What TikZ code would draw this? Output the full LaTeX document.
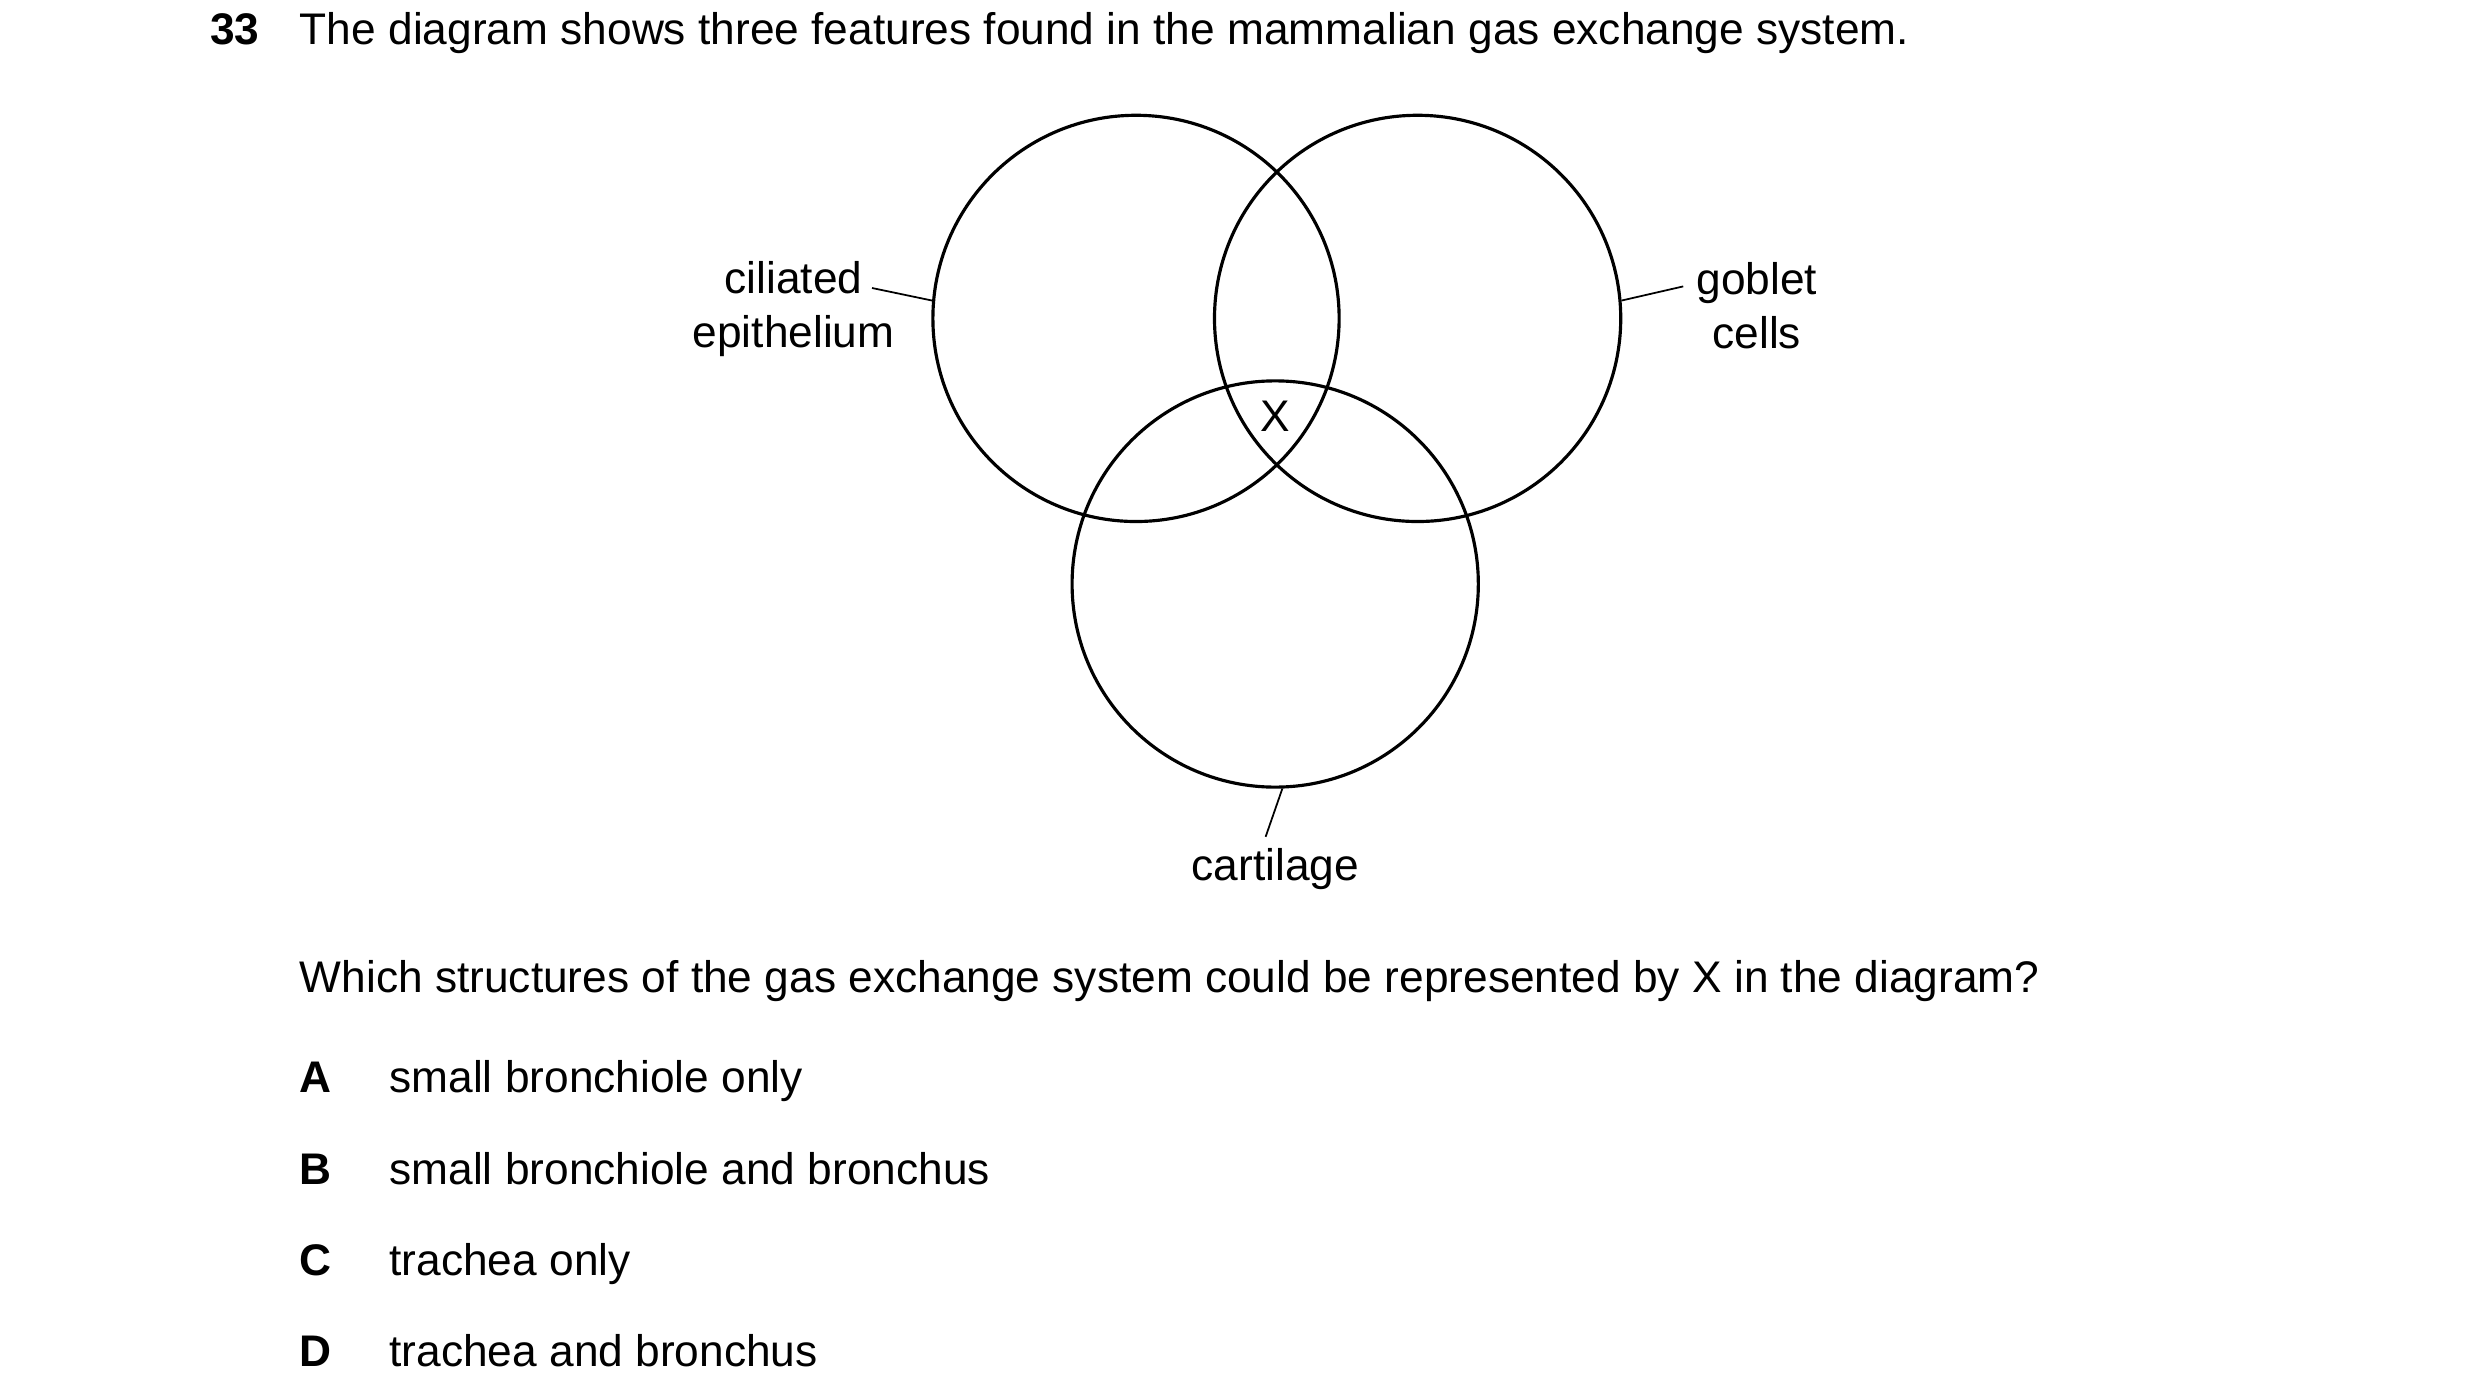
\documentclass[tikz,border=0pt]{standalone}
\usepackage{fontspec}
\setmainfont{Liberation Sans}
\begin{document}
\begin{tikzpicture}[x=0.016cm,y=-0.016cm,
  txt/.style={font=\fontsize{12.6}{15.5}\selectfont,inner sep=0pt},
  ring/.style={draw,line width=0.9pt,circle,minimum size=4.064cm,inner sep=0pt},
  lead/.style={line width=0.5pt}]
  \useasboundingbox (0,0) rectangle (1550,870.6);
  % question
  \node[txt,anchor=base west,font=\fontsize{12.6}{15.5}\selectfont\bfseries] (num) at (131,28) {33};
  \node[txt,anchor=base west] (head) at (187,28) {The diagram shows three features found in the mammalian gas exchange system.};
  % circles
  \node[ring] (cil) at (710,199) {};
  \node[ring] (gob) at (886,199) {};
  \node[ring] (car) at (797,365) {};
  \node[txt] (x) at (797,260) {X};
  % labels
  \node[txt,align=center] (lcil) at (496,193) {ciliated\\epithelium};
  \node[txt,align=center] (lgob) at (1098,191) {goblet\\cells};
  \node[txt,anchor=base] (lcar) at (797,550) {cartilage};
  \coordinate (ecil) at (545,180);
  \coordinate (egob) at (1052,179);
  \coordinate (ecar) at (791,523);
  \draw[lead] (ecil) -- (cil.175);
  \draw[lead] (egob) -- (gob.5);
  \draw[lead] (ecar) -- (car.272);
  % options
  \node[txt,anchor=base west] (q) at (187,620) {Which structures of the gas exchange system could be represented by X in the diagram?};
  \foreach \l/\t/\y in {A/small bronchiole only/683,B/small bronchiole and bronchus/740,C/trachea only/797,D/trachea and bronchus/854}{
    \node[txt,anchor=base,font=\fontsize{12.6}{15.5}\selectfont\bfseries] (opt\l) at (197,\y) {\l};
    \node[txt,anchor=base west] (txt\l) at (243,\y) {\t};
  }
\end{tikzpicture}
\end{document}
